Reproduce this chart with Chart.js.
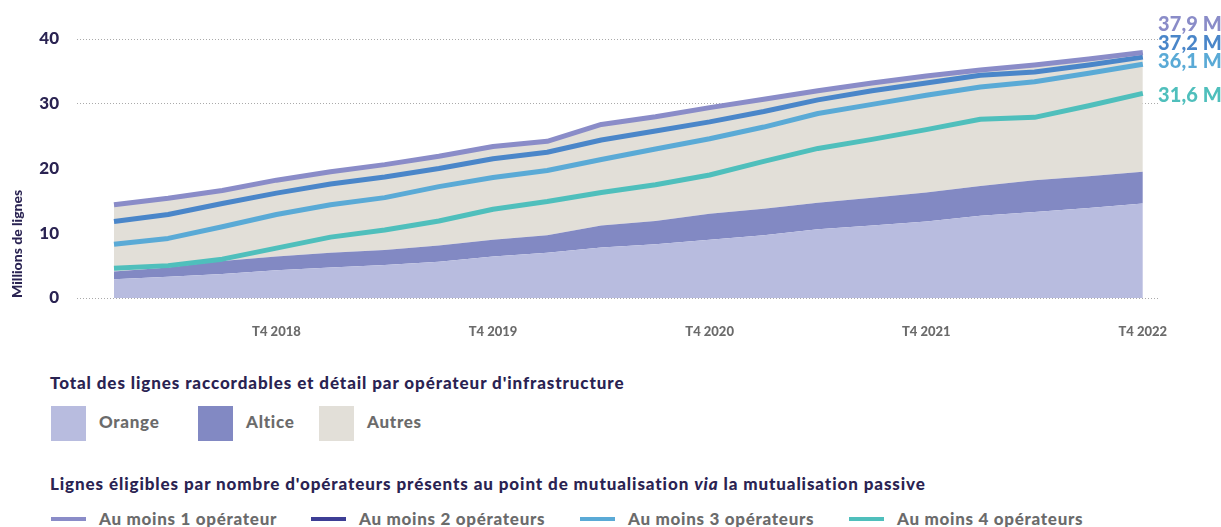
<!DOCTYPE html>
<html>
<head>
<meta charset="utf-8">
<script src="https://cdn.jsdelivr.net/npm/chart.js@4.4.0/dist/chart.umd.min.js"></script>
<style>
  body { margin: 0; background: #fff; font-family: Lato, sans-serif; }
  #wrap { position: relative; width: 1221px; height: 527px; overflow: hidden; }
  #chartBox { position: absolute; left: 0; top: 0; width: 1221px; height: 345px; }
  .endLabel { position: absolute; left: 1158px; font-weight: 900; font-size: 20px; line-height: 20px; letter-spacing: 0.1px; white-space: nowrap; }
  .legTitle { position: absolute; left: 50px; font-weight: 900; font-size: 17px; line-height: 17px; letter-spacing: 0.9px; color: #2a2352; white-space: nowrap; }
  .swatch { position: absolute; top: 406px; width: 35px; height: 35px; }
  .legText { position: absolute; font-weight: 900; font-size: 17px; line-height: 17px; letter-spacing: 0.7px; color: #6b6b6b; white-space: nowrap; }
  .legLine { position: absolute; top: 517px; width: 35px; height: 4px; }
</style>
</head>
<body>
<div id="wrap">
  <div id="chartBox"><canvas id="myChart"></canvas></div>
</div>
<script>
// quarters T1 2018 .. T4 2022
const quarters = [
  "T1 2018", "T2 2018", "T3 2018", "T4 2018",
  "T1 2019", "T2 2019", "T3 2019", "T4 2019",
  "T1 2020", "T2 2020", "T3 2020", "T4 2020",
  "T1 2021", "T2 2021", "T3 2021", "T4 2021",
  "T1 2022", "T2 2022", "T3 2022", "T4 2022"
];

// lignes raccordables par operateur d'infrastructure (millions)
const orange = [2.9, 3.3, 3.7, 4.3, 4.7, 5.1, 5.6, 6.4, 7.0, 7.8, 8.3, 9.0, 9.7, 10.6, 11.2, 11.8, 12.7, 13.3, 13.9, 14.6];
const altice = [1.2, 1.4, 2.0, 2.1, 2.3, 2.3, 2.5, 2.6, 2.7, 3.4, 3.6, 4.0, 4.1, 4.1, 4.3, 4.5, 4.6, 4.9, 4.9, 4.9];
const autres = [10.3, 10.7, 10.9, 11.8, 12.5, 13.2, 13.8, 14.4, 14.5, 15.6, 16.1, 16.4, 16.9, 17.3, 17.7, 18.0, 17.9, 17.8, 18.1, 18.4];

// lignes eligibles par nombre d'operateurs (millions)
const auMoins1 = [14.4, 15.4, 16.6, 18.2, 19.5, 20.6, 21.9, 23.4, 24.2, 26.8, 28.0, 29.4, 30.7, 32.0, 33.2, 34.3, 35.2, 36.0, 36.9, 37.9];
const auMoins2 = [11.8, 12.9, 14.6, 16.2, 17.6, 18.7, 20.0, 21.5, 22.5, 24.4, 25.8, 27.2, 28.8, 30.6, 32.0, 33.2, 34.4, 34.9, 36.0, 37.2];
const auMoins3 = [8.3, 9.2, 11.0, 12.9, 14.4, 15.5, 17.2, 18.6, 19.7, 21.4, 23.0, 24.6, 26.4, 28.5, 29.9, 31.3, 32.6, 33.4, 34.7, 36.1];
const auMoins4 = [4.6, 5.0, 6.0, 7.7, 9.4, 10.5, 11.9, 13.7, 14.9, 16.3, 17.5, 19.0, 21.1, 23.1, 24.5, 26.0, 27.6, 27.9, 29.7, 31.6];

const yTicks = [0, 10, 20, 30, 40];
const endLabels = ["37,9 M", "37,2 M", "36,1 M", "31,6 M"];
const infraNames = ["Orange", "Altice", "Autres"];
const lineNames = ["Au moins 1 opérateur", "Au moins 2 opérateurs", "Au moins 3 opérateurs", "Au moins 4 opérateurs"];

const C = {
  orange: "#b8bcdf", altice: "#8289c3", autres: "#e2dfd8",
  l1: "#8a8cc8", l2: "#4a86c9", l3: "#5aaad6", l4: "#4fbfbc", l2legend: "#3d3e95",
  navy: "#2a2352", grey: "#6b6b6b"
};

const toPoints = (arr) => arr.map((v, i) => ({ x: i, y: v }));

const lineSet = (label, data, color, stack) => ({
  label: label, data: toPoints(data), stack: stack,
  borderColor: color, borderWidth: 5, pointRadius: 0, tension: 0, fill: false,
  borderJoinStyle: "round"
});
const areaSet = (label, data, color, fill) => ({
  label: label, data: toPoints(data), stack: "infra",
  backgroundColor: color, borderWidth: 0, borderColor: color, pointRadius: 0, tension: 0, fill: fill
});

const t4Index = quarters.map((q, i) => i).filter((i) => quarters[i].startsWith("T4"));

const ctx = document.getElementById("myChart");
const chart = new Chart(ctx, {
  type: "line",
  data: {
    datasets: [
      lineSet(lineNames[0], auMoins1, C.l1, "s1"),
      lineSet(lineNames[1], auMoins2, C.l2, "s2"),
      lineSet(lineNames[2], auMoins3, C.l3, "s3"),
      lineSet(lineNames[3], auMoins4, C.l4, "s4"),
      areaSet(infraNames[0], orange, C.orange, "origin"),
      areaSet(infraNames[1], altice, C.altice, "-1"),
      areaSet(infraNames[2], autres, C.autres, "-1")
    ]
  },
  options: {
    responsive: true,
    maintainAspectRatio: false,
    animation: false,
    layout: { padding: { top: 39, right: 61, left: 0, bottom: 0 } },
    plugins: { legend: { display: false }, tooltip: { enabled: false } },
    scales: {
      x: {
        type: "linear",
        min: -0.683,
        max: 19.317,
        grid: { display: false },
        border: { display: false },
        afterBuildTicks: (axis) => { axis.ticks = t4Index.map((v) => ({ value: v })); },
        afterFit: (axis) => { axis.height = 47; },
        ticks: {
          autoSkip: false,
          maxRotation: 0,
          padding: 18,
          color: C.grey,
          font: { family: "Lato", weight: "900", size: 13 },
          callback: (v) => quarters[v]
        }
      },
      y: {
        stacked: true,
        min: 0,
        max: 40,
        afterBuildTicks: (axis) => { axis.ticks = yTicks.map((v) => ({ value: v })); },
        afterFit: (axis) => { axis.width = 77; },
        border: { display: false, dash: [1, 2] },
        grid: {
          drawTicks: false,
          lineWidth: 1,
          color: (c) => (c.tick && (c.tick.value === 0 || c.tick.value >= 30)) ? "#aaaaaa" : "rgba(0,0,0,0)"
        },
        ticks: {
          padding: 18,
          color: C.navy,
          font: { family: "Lato", weight: "900", size: 17 }
        },
        title: {
          display: true,
          text: "Millions de lignes",
          align: "start",
          color: C.navy,
          padding: { top: 9, bottom: 0 },
          font: { family: "Lato", weight: "900", size: 14 }
        }
      }
    }
  }
});

// end-of-line value labels, legends
const wrap = document.getElementById("wrap");
const add = (cls, text, css) => {
  const d = document.createElement("div");
  d.className = cls;
  if (text) d.innerHTML = text;
  Object.assign(d.style, css);
  wrap.appendChild(d);
  return d;
};

const endColors = [C.l1, C.l2, C.l3, C.l4];
const endTops = [13, 32, 50, 84];
endLabels.forEach((t, i) => add("endLabel", t, { top: endTops[i] + "px", color: endColors[i] }));

add("legTitle", "Total des lignes raccordables et détail par opérateur d'infrastructure", { top: "374px" });
const infraColors = [C.orange, C.altice, C.autres];
const swatchLeft = [51, 198, 319];
infraNames.forEach((n, i) => {
  add("swatch", "", { left: swatchLeft[i] + "px", background: infraColors[i] });
  add("legText", n, { left: (swatchLeft[i] + 48) + "px", top: "413px" });
});

add("legTitle", "Lignes éligibles par nombre d'opérateurs présents au point de mutualisation <i>via</i> la mutualisation passive", { top: "475px" });
const lineColors = [C.l1, C.l2legend, C.l3, C.l4];
const lineLeft = [51, 311, 580, 849];
lineNames.forEach((n, i) => {
  add("legLine", "", { left: lineLeft[i] + "px", background: lineColors[i] });
  add("legText", n, { left: (lineLeft[i] + 48) + "px", top: "510px" });
});
</script>
</body>
</html>
